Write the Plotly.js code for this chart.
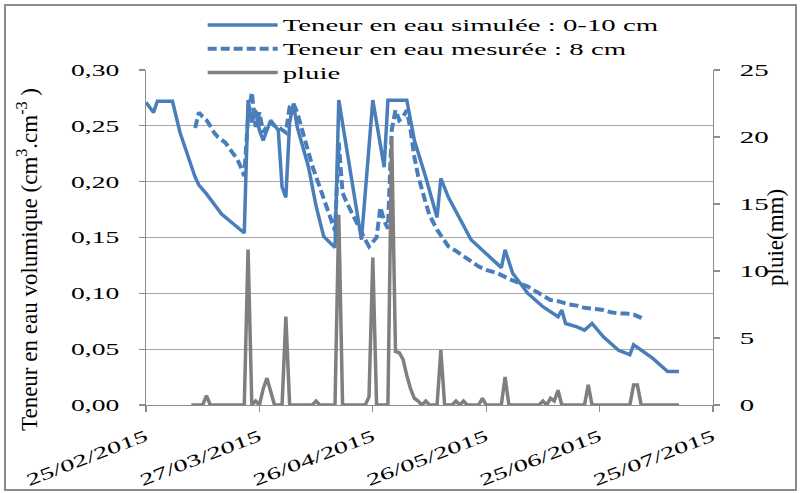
<!DOCTYPE html>
<html>
<head>
<meta charset="utf-8">
<script src="https://cdn.plot.ly/plotly-3.0.1.min.js"></script>
<style>
  html, body { margin: 0; padding: 0; background: #fff; }
  #wrap { position: relative; width: 800px; height: 493px; }
  #chart { width: 800px; height: 493px; }
  #frame { position: absolute; left: 4px; top: 4px; width: 789px; height: 483px;
           border: 2px solid #8a8a8a; pointer-events: none; }
</style>
</head>
<body>
<div id="wrap"><div id="chart"></div><div id="frame"></div></div>
<script>
// ---- data ----
const simDates = ['2015-02-25','2015-02-27','2015-02-28','2015-03-02','2015-03-04','2015-03-06','2015-03-08','2015-03-10','2015-03-11','2015-03-13','2015-03-17','2015-03-22','2015-03-23','2015-03-24','2015-03-25','2015-03-26','2015-03-27','2015-03-28','2015-03-30','2015-04-01','2015-04-02','2015-04-03','2015-04-04','2015-04-05','2015-04-06','2015-04-09','2015-04-11','2015-04-13','2015-04-16','2015-04-17','2015-04-20','2015-04-23','2015-04-26','2015-04-29','2015-04-30','2015-05-05','2015-05-07','2015-05-10','2015-05-13','2015-05-14','2015-05-16','2015-05-22','2015-05-30','2015-05-31','2015-06-02','2015-06-06','2015-06-10','2015-06-14','2015-06-15','2015-06-16','2015-06-19','2015-06-21','2015-06-23','2015-06-26','2015-06-30','2015-07-03','2015-07-04','2015-07-07','2015-07-09','2015-07-13','2015-07-16'];
const simValues = [0.271,0.262,0.272,0.272,0.272,0.244,0.225,0.204,0.197,0.189,0.171,0.157,0.154,0.273,0.253,0.264,0.246,0.237,0.255,0.246,0.195,0.186,0.253,0.270,0.249,0.213,0.178,0.151,0.141,0.273,0.210,0.148,0.273,0.213,0.273,0.273,0.237,0.204,0.168,0.203,0.186,0.148,0.123,0.139,0.118,0.100,0.088,0.079,0.085,0.073,0.070,0.067,0.073,0.061,0.049,0.045,0.054,0.047,0.042,0.030,0.030];

const measDates = ['2015-03-10','2015-03-11','2015-03-12','2015-03-13','2015-03-14','2015-03-15','2015-03-16','2015-03-17','2015-03-18','2015-03-19','2015-03-20','2015-03-21','2015-03-22','2015-03-23','2015-03-24','2015-03-25','2015-03-26','2015-03-27','2015-03-28','2015-03-29','2015-03-30','2015-03-31','2015-04-01','2015-04-02','2015-04-03','2015-04-04','2015-04-05','2015-04-06','2015-04-07','2015-04-08','2015-04-09','2015-04-10','2015-04-11','2015-04-12','2015-04-13','2015-04-14','2015-04-15','2015-04-16','2015-04-17','2015-04-18','2015-04-19','2015-04-20','2015-04-21','2015-04-22','2015-04-23','2015-04-24','2015-04-25','2015-04-26','2015-04-27','2015-04-28','2015-04-29','2015-04-30','2015-05-01','2015-05-02','2015-05-03','2015-05-04','2015-05-05','2015-05-06','2015-05-07','2015-05-08','2015-05-09','2015-05-10','2015-05-11','2015-05-12','2015-05-13','2015-05-14','2015-05-15','2015-05-16','2015-05-18','2015-05-20','2015-05-22','2015-05-24','2015-05-26','2015-05-29','2015-06-01','2015-06-03','2015-06-06','2015-06-09','2015-06-12','2015-06-14','2015-06-17','2015-06-19','2015-06-21','2015-06-24','2015-06-26','2015-06-28','2015-06-30','2015-07-02','2015-07-04','2015-07-06','2015-07-07'];
const measValues = [0.248,0.262,0.258,0.255,0.250,0.244,0.240,0.238,0.235,0.230,0.226,0.221,0.214,0.205,0.258,0.280,0.249,0.262,0.244,0.250,0.253,0.250,0.249,0.246,0.244,0.267,0.270,0.262,0.249,0.238,0.226,0.214,0.204,0.195,0.185,0.175,0.166,0.156,0.235,0.190,0.182,0.175,0.167,0.160,0.154,0.148,0.142,0.146,0.150,0.177,0.165,0.158,0.246,0.264,0.255,0.258,0.264,0.246,0.222,0.205,0.192,0.181,0.170,0.163,0.157,0.152,0.147,0.142,0.138,0.133,0.128,0.124,0.121,0.118,0.113,0.110,0.106,0.100,0.094,0.093,0.090,0.089,0.087,0.086,0.085,0.083,0.082,0.082,0.081,0.078,0.076];

const rainDates = ['2015-03-09','2015-03-12','2015-03-13','2015-03-14','2015-03-23','2015-03-24','2015-03-25','2015-03-26','2015-03-27','2015-03-28','2015-03-29','2015-03-30','2015-03-31','2015-04-02','2015-04-03','2015-04-04','2015-04-10','2015-04-11','2015-04-12','2015-04-16','2015-04-17','2015-04-18','2015-04-24','2015-04-25','2015-04-26','2015-04-27','2015-04-30','2015-05-01','2015-05-02','2015-05-03','2015-05-04','2015-05-05','2015-05-06','2015-05-07','2015-05-08','2015-05-09','2015-05-10','2015-05-11','2015-05-13','2015-05-14','2015-05-15','2015-05-17','2015-05-18','2015-05-19','2015-05-20','2015-05-21','2015-05-24','2015-05-25','2015-05-26','2015-05-30','2015-05-31','2015-06-01','2015-06-09','2015-06-10','2015-06-11','2015-06-12','2015-06-13','2015-06-14','2015-06-15','2015-06-21','2015-06-22','2015-06-23','2015-07-03','2015-07-04','2015-07-05','2015-07-06','2015-07-16'];
const rainValues = [0,0,0.7,0,0,11.6,0,0.3,0,1.2,2.0,1.0,0,0,6.6,0,0,0.3,0,0,14.2,0,0,0.6,11.0,0,0,20.0,4.0,3.9,3.4,2.2,1.2,0.5,0.3,0,0.3,0,0,4.1,0,0,0.3,0,0.3,0,0,0.5,0,0,2.1,0,0,0.3,0,0.5,0.3,1.1,0,0,1.5,0,0,1.5,1.5,0,0];

const xTickVals = ['2015-02-25','2015-03-27','2015-04-26','2015-05-26','2015-06-25','2015-07-25'];
const xTickText = ['25/02/2015','27/03/2015','26/04/2015','26/05/2015','25/06/2015','25/07/2015'];
const yTickVals = [0,0.05,0.10,0.15,0.20,0.25,0.30];
const y2TickVals = [0,5,10,15,20,25];
const seriesNames = ['Teneur en eau simulée : 0-10 cm','Teneur en eau mesurée : 8 cm','pluie'];
const yTitle = 'Teneur en eau volumique (cm<sup>3</sup>.cm<sup>-3</sup> )';
const y2Title = 'pluie(mm)';

// ---- chart ----
const blue = '#4a7ebb', grey = '#7f7f7f', axisCol = '#8c8c8c';
const serif = 'Liberation Serif, Times New Roman, serif';
const traces = [
  {x: simDates, y: simValues, name: seriesNames[0], type: 'scatter', mode: 'lines',
   line: {color: blue, width: 3.5}},
  {x: measDates, y: measValues, name: seriesNames[1], type: 'scatter', mode: 'lines',
   line: {color: blue, width: 4, dash: '9px,4px'}},
  {x: rainDates, y: rainValues, name: seriesNames[2], type: 'scatter', mode: 'lines', yaxis: 'y2',
   line: {color: grey, width: 3.5}}
];
const tickFont = {family: serif, size: 17, color: '#000'};
const layout = {
  width: 800, height: 493,
  margin: {l: 146, r: 87, t: 70, b: 88, pad: 0, autoexpand: false},
  paper_bgcolor: '#fff', plot_bgcolor: '#fff',
  separators: ', ',
  font: {family: serif, color: '#000'},
  showlegend: true,
  legend: {x: 0.1, y: 1.185, xanchor: 'left', yanchor: 'top', bgcolor: 'rgba(0,0,0,0)',
           font: {family: serif, size: 16, color: '#000'}, itemwidth: 70, tracegroupgap: 0},
  xaxis: {type: 'date', range: ['2015-02-25','2015-07-25'], tickmode: 'array', tickvals: xTickVals, ticktext: xTickText,
          tickangle: -21, ticks: 'outside', ticklen: 6, tickcolor: axisCol, tickwidth: 1.3,
          showline: true, linecolor: axisCol, linewidth: 1.3, showgrid: false, zeroline: false,
          tickfont: tickFont, ticklabelstandoff: 8, automargin: false},
  yaxis: {range: [0, 0.30], tickmode: 'array', tickvals: yTickVals, tickformat: '.2f',
          ticks: 'outside', ticklen: 6, tickcolor: axisCol, tickwidth: 1.3,
          showline: true, linecolor: axisCol, linewidth: 1.3,
          showgrid: true, gridcolor: '#a6a6a6', gridwidth: 1.3, zeroline: false,
          tickfont: tickFont, ticklabelstandoff: 16, automargin: false},
  yaxis2: {overlaying: 'y', side: 'right', range: [0, 25], tickmode: 'array', tickvals: y2TickVals,
           ticks: 'outside', ticklen: 6, tickcolor: axisCol, tickwidth: 1.3,
           showline: true, linecolor: axisCol, linewidth: 1.3, showgrid: false, zeroline: false,
           tickfont: tickFont, ticklabelstandoff: 16, automargin: false},
  annotations: [
    {text: yTitle, xref: 'paper', yref: 'paper', x: -0.208, y: 0.433, showarrow: false, textangle: -90,
     font: {family: serif, size: 23, color: '#000'}, xanchor: 'center', yanchor: 'middle'},
    {text: y2Title, xref: 'paper', yref: 'paper', x: 1.111, y: 0.5015, showarrow: false, textangle: -90,
     font: {family: serif, size: 23, color: '#000'}, xanchor: 'center', yanchor: 'middle'}
  ],
  shapes: [
    {type: 'rect', xref: 'paper', yref: 'y', x0: 0.037, x1: 0.995, y0: 0.2985, y1: 0.3015,
     fillcolor: '#fff', line: {width: 0}, layer: 'above'}
  ]
};

function stretch(sel, factor) {
  document.querySelectorAll(sel).forEach(function (t) {
    const w = t.getComputedTextLength();
    if (w > 0) {
      t.setAttribute('textLength', (w * factor).toFixed(1));
      t.setAttribute('lengthAdjust', 'spacingAndGlyphs');
    }
  });
}

Plotly.newPlot('chart', traces, layout, {displayModeBar: false, staticPlot: true}).then(function () {
  stretch('.ytick text', 1.62);
  stretch('.y2tick text', 1.7);
  stretch('.xtick text', 1.66);
  stretch('.legendtext', 1.8);
  document.querySelectorAll('.legend [clip-path]').forEach(function (e) { e.removeAttribute('clip-path'); });
});
</script>
</body>
</html>
